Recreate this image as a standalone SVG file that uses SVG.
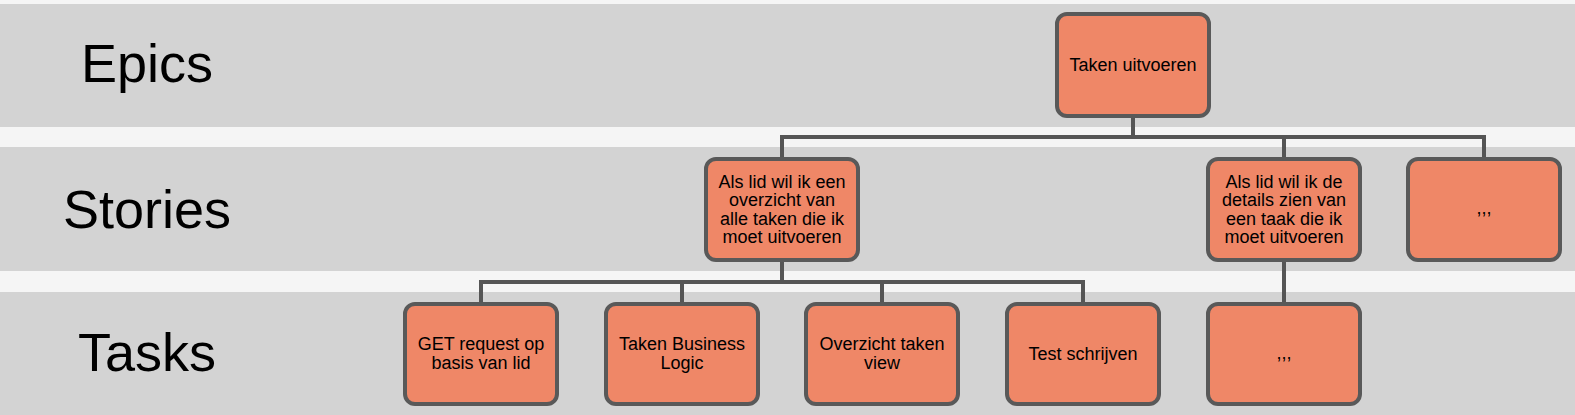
<svg xmlns="http://www.w3.org/2000/svg" width="1575" height="415" viewBox="0 0 1575 415">
<style>
.band{fill:#d3d3d3}
.lane{font-family:"Liberation Sans",Arial,sans-serif;font-size:54px;fill:#000;text-anchor:middle}
.box{fill:#ef8767;stroke:#595959;stroke-width:4}
.t{font-family:"Liberation Sans",Arial,sans-serif;font-size:18px;fill:#000;text-anchor:middle}
.conn{fill:none;stroke:#555555;stroke-width:4}
</style>
<rect x="0" y="0" width="1575" height="415" fill="#f5f5f5"/>
<rect class="band" x="0" y="4" width="1575" height="123"/>
<rect class="band" x="0" y="147" width="1575" height="124"/>
<rect class="band" x="0" y="292" width="1575" height="123"/>
<text class="lane" x="147" y="82">Epics</text>
<text class="lane" x="147" y="228">Stories</text>
<text class="lane" x="147" y="371">Tasks</text>
<g id="connectors">
<path class="conn" d="M1133 118V137M782 157V137H1484V157M1284 137V157"/>
<path class="conn" d="M782 262V282M481 302V282H1083V302M682 282V302M882 282V302"/>
<path class="conn" d="M1284 262V302"/>
</g>
<g id="epic1"><rect class="box" x="1057" y="14" width="152" height="102" rx="10"/><text class="t" x="1133" y="71">Taken uitvoeren</text></g>
<g id="story1"><rect class="box" x="706" y="159" width="152" height="101" rx="10"/><text class="t" x="782" y="188">Als lid wil ik een</text><text class="t" x="782" y="206">overzicht van</text><text class="t" x="782" y="224.5">alle taken die ik</text><text class="t" x="782" y="243">moet uitvoeren</text></g>
<g id="story2"><rect class="box" x="1208" y="159" width="152" height="101" rx="10"/><text class="t" x="1284" y="188">Als lid wil ik de</text><text class="t" x="1284" y="206">details zien van</text><text class="t" x="1284" y="224.5">een taak die ik</text><text class="t" x="1284" y="243">moet uitvoeren</text></g>
<g id="story3"><rect class="box" x="1408" y="159" width="152" height="101" rx="10"/><text class="t" x="1484" y="214">,,,</text></g>
<g id="task1"><rect class="box" x="405" y="304" width="152" height="100" rx="10"/><text class="t" x="481" y="350">GET request op</text><text class="t" x="481" y="369">basis van lid</text></g>
<g id="task2"><rect class="box" x="606" y="304" width="152" height="100" rx="10"/><text class="t" x="682" y="350">Taken Business</text><text class="t" x="682" y="369">Logic</text></g>
<g id="task3"><rect class="box" x="806" y="304" width="152" height="100" rx="10"/><text class="t" x="882" y="350">Overzicht taken</text><text class="t" x="882" y="369">view</text></g>
<g id="task4"><rect class="box" x="1007" y="304" width="152" height="100" rx="10"/><text class="t" x="1083" y="360">Test schrijven</text></g>
<g id="task5"><rect class="box" x="1208" y="304" width="152" height="100" rx="10"/><text class="t" x="1284" y="359">,,,</text></g>
</svg>
